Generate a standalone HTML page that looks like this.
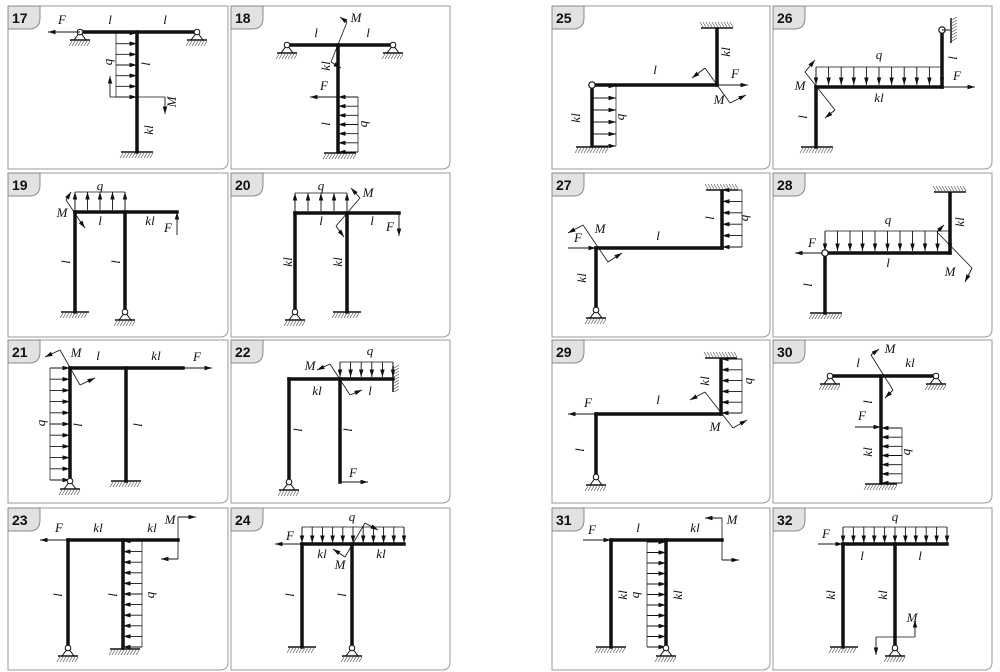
<!DOCTYPE html>
<html><head><meta charset="utf-8">
<style>
html,body{margin:0;padding:0;background:#fff;width:1000px;height:672px;overflow:hidden}
svg text{font-family:"Liberation Serif",serif;font-style:italic;font-size:13px;fill:#111}
svg text.n{font-family:"Liberation Sans",sans-serif;font-style:normal;font-weight:bold;font-size:14px}
</style></head><body>
<svg id="s" width="1000" height="672" viewBox="0 0 1000 672" xmlns="http://www.w3.org/2000/svg">
<defs>
<marker id="ah" viewBox="0 0 10 6" refX="10" refY="3" markerWidth="8" markerHeight="4.5" markerUnits="userSpaceOnUse" orient="auto"><path d="M0,0L10,3L0,6z" fill="#111"/></marker>
</defs>
</svg>
<script>
var S=document.getElementById('s'),NS='http://www.w3.org/2000/svg';
function el(t,a,txt){var e=document.createElementNS(NS,t);for(var k in a)e.setAttribute(k,a[k]);if(txt!=null)e.textContent=txt;S.appendChild(e);return e;}
function L(x1,y1,x2,y2,w,c){el('line',{x1:x1,y1:y1,x2:x2,y2:y2,stroke:c||'#111','stroke-width':w||0.8});}
function B(x1,y1,x2,y2){el('line',{x1:x1,y1:y1,x2:x2,y2:y2,stroke:'#111','stroke-width':3.5,'stroke-linecap':'square'});}
function A(x1,y1,x2,y2){el('line',{x1:x1,y1:y1,x2:x2,y2:y2,stroke:'#111','stroke-width':0.9,'marker-end':'url(#ah)'});}
function T(x,y,s,r){var a={x:x,y:y,'text-anchor':'middle'};if(r)a.transform='rotate(-90 '+x+' '+y+')';el('text',a,s);}
function hatchH(x1,x2,y,d){L(x1,y,x2,y,1.5);for(var x=x1+2;x<=x2;x+=3)L(x,y+d*1,x-3,y+d*6,0.6,'#444');}
function hatchV(x,y1,y2,d){L(x,y1,x,y2,1.5);for(var y=y1+2;y<=y2;y+=3)L(x+d*1,y,x+d*6,y-3,0.6,'#444');}
function fixH(x,y,w,d){hatchH(x-w/2,x+w/2,y,d||1);}
function pin(x,y){el('path',{d:'M'+x+','+y+'L'+(x-6)+','+(y+8)+'L'+(x+6)+','+(y+8)+'z',fill:'#fff',stroke:'#111','stroke-width':1});hatchH(x-10,x+10,y+8,1);el('circle',{cx:x,cy:y,r:2.8,fill:'#fff',stroke:'#111','stroke-width':1});}
function hinge(x,y){el('circle',{cx:x,cy:y,r:3.2,fill:'#fff',stroke:'#111','stroke-width':1.2});}
function Q(ax,ay,bx,by,dx,dy,n,inward){L(ax+dx,ay+dy,bx+dx,by+dy,0.7);L(ax,ay,ax+dx,ay+dy,0.7);L(bx,by,bx+dx,by+dy,0.7);
 for(var i=0;i<n;i++){var t=n==1?0:i/(n-1);var px=ax+(bx-ax)*t,py=ay+(by-ay)*t;
  if(inward)A(px+dx,py+dy,px,py);else A(px,py,px+dx,py+dy);}}
function M(x1,y1,x2,y2,a1x,a1y,a2x,a2y){L(x1,y1,x2,y2,0.8);A(x1,y1,a1x,a1y);A(x2,y2,a2x,a2y);}
function panel(x1,y1,x2,y2,num){el('path',{d:'M'+x1+','+y1+'H'+x2+'V'+(y2-8)+'Q'+x2+','+y2+' '+(x2-8)+','+y2+'H'+x1+'Z',fill:'#fff',stroke:'#999','stroke-width':1});
 el('path',{d:'M'+x1+','+y1+'H'+(x1+32)+'V'+(y1+12)+'Q'+(x1+32)+','+(y1+23)+' '+(x1+21)+','+(y1+23)+'H'+x1+'Z',fill:'#e2e2e2',stroke:'#888','stroke-width':1});
 el('text',{x:x1+4,y:y1+17,'class':'n'},num);}
var cols=[[8,228],[231,450],[552,770],[773,992]],rows=[[6,169],[173,337],[340,503],[508,670]];
var nums=[[17,18,25,26],[19,20,27,28],[21,22,29,30],[23,24,31,32]];
for(var r=0;r<4;r++)for(var c=0;c<4;c++)panel(cols[c][0],rows[r][0],cols[c][1],rows[r][1],nums[r][c]);

// 17
Q(137,33,137,97,-21,0,7,true);
B(80,32,197,32);B(137,32,137,152);fixH(137,152,32);pin(80,32);pin(197,32);
A(80,32,48,32);T(62,24,'F');T(110,24,'l');T(165,24,'l');
L(116,97,165,97);A(110,97,110,76);L(110,97,116,97);A(165,97,165,114);
T(112,62,'q',1);T(150,64,'l',1);T(176,102,'M',1);T(153,130,'kl',1);
// 18
Q(338,97,338,152,20,0,7,true);
B(287,45,393,45);B(338,45,338,152);fixH(340,153,32);pin(287,45);pin(393,45);
A(338,97,310,97);T(324,90,'F');M(347,22,331,62,340,17,341,68);T(356,22,'M');
T(316,37,'l');T(368,37,'l');T(330,66,'kl',1);T(330,124,'l',1);T(367,124,'q',1);
// 19
Q(75,210,125,210,0,-18,5,false);
B(75,212,177,212);B(75,212,75,312);B(125,212,125,310);fixH(75,312,28);pin(125,312);
A(177,235,177,212);T(168,232,'F');M(66,200,80,221,71,192,85,228);T(62,217,'M');
T(100,190,'q');T(100,225,'l');T(150,225,'kl');T(70,262,'l',1);T(120,262,'l',1);
// 20
Q(295,211,347,211,0,-18,5,false);
B(295,213,399,213);B(295,213,295,310);B(347,213,347,312);pin(295,312);fixH(347,312,28);
A(399,213,399,236);T(390,231,'F');M(360,198,336,226,351,188,344,237);T(368,197,'M');
T(321,190,'q');T(321,225,'l');T(372,225,'l');T(292,262,'kl',1);T(342,262,'kl',1);
// 21
Q(70,368,70,480,-20,0,11,true);
B(70,368,183,368);B(70,368,70,480);B(126,368,126,481);pin(70,481);fixH(126,481,30);
A(183,368,212,368);T(197,361,'F');M(60,350,80,385,45,357,95,378);T(76,357,'M');
T(98,360,'l');T(156,360,'kl');T(45,423,'q',1);T(82,425,'l',1);T(142,425,'l',1);
// 22
Q(340,377,393,377,0,-15,6,true);
B(289,379,393,379);B(289,379,289,481);B(340,379,340,482);hatchV(393,366,392,1);pin(289,482);
A(340,482,368,482);T(353,477,'F');M(330,364,350,395,317,370,362,390);T(310,370,'M');
T(370,355,'q');T(317,395,'kl');T(370,395,'l');T(302,430,'l',1);T(352,430,'l',1);
// 23
Q(123,541,123,647,19,0,11,true);
B(68,540,178,540);B(68,540,68,648);B(123,540,123,648);pin(68,648);fixH(125,649,30);
A(68,540,40,540);T(59,532,'F');L(178,540,178,517);A(178,517,196,517);L(178,540,178,559);A(178,559,161,559);
T(170,524,'M');T(98,532,'kl');T(152,532,'kl');T(62,595,'l',1);T(117,595,'l',1);T(154,595,'q',1);
// 24
Q(302,543,404,543,0,-16,11,true);
B(302,544,404,544);B(302,544,302,647);B(352,544,352,647);fixH(302,647,28);pin(352,648);
A(302,544,275,544);T(290,540,'F');M(365,523,345,557,378,530,333,549);T(352,521,'q');T(340,569,'M');
T(322,558,'kl');T(381,558,'kl');T(294,595,'l',1);T(346,595,'l',1);

// 25
Q(592,86,592,146,24,0,6,false);
B(717,29,717,85);B(592,85,717,85);B(592,85,592,146);fixH(717,28,32,-1);fixH(592,147,32);hinge(592,85);
A(717,85,748,85);T(735,78,'F');M(705,68,730,103,692,78,746,95);T(719,104,'M');
T(730,52,'kl',1);T(655,74,'l');T(580,118,'kl',1);T(624,117,'q',1);
// 26
Q(816,85,942,85,0,-18,11,true);
B(942,31,942,87);B(816,87,942,87);B(816,87,816,147);hatchV(951,18,43,1);hinge(942,30);L(942,30,950,30,1);fixH(817,147,32);
A(942,87,975,87);T(957,80,'F');M(805,72,835,110,815,60,825,118);T(800,90,'M');
T(879,59,'q');T(879,102,'kl');T(807,117,'l',1);T(957,58,'l',1);
// 27
Q(722,190,722,247,20,0,6,true);
B(722,191,722,248);B(596,248,722,248);B(596,248,596,308);fixH(722,190,32,-1);pin(596,310);
A(568,248,596,248);T(578,242,'F');M(583,225,608,262,568,233,622,253);T(600,233,'M');
T(658,240,'l');T(714,218,'l',1);T(748,218,'q',1);T(586,278,'kl',1);
// 28
Q(825,251,950,251,0,-20,11,true);
B(950,194,950,253);B(825,253,950,253);B(825,253,825,313);fixH(950,192,32,-1);fixH(826,313,32);hinge(825,253);
A(822,253,795,253);T(812,247,'F');M(937,232,972,268,944,225,965,282);T(950,276,'M');
T(888,224,'q');T(888,267,'l');T(964,222,'kl',1);T(812,285,'l',1);
// 29
Q(721,359,721,413,21,0,6,true);
B(721,360,721,414);B(596,414,721,414);B(596,414,596,476);fixH(721,358,32,-1);pin(596,477);
A(596,414,568,414);T(588,407,'F');M(705,392,733,428,690,400,747,420);T(715,431,'M');
T(658,404,'l');T(709,381,'kl',1);T(752,381,'q',1);T(584,450,'l',1);
// 30
Q(881,428,881,483,21,0,7,true);
B(830,376,936,376);B(881,376,881,483);pin(830,376);pin(936,376);fixH(881,484,32);
A(855,427,881,427);T(862,420,'F');M(871,355,893,390,879,349,885,398);T(890,353,'M');
T(858,367,'l');T(910,367,'kl');T(872,402,'l',1);T(872,452,'kl',1);T(910,452,'q',1);
// 31
Q(666,542,666,647,-19,0,11,true);
B(611,540,722,540);B(611,540,611,647);B(666,540,666,646);fixH(611,647,30);pin(666,648);
A(583,540,611,540);T(592,534,'F');L(722,540,722,518);A(722,518,705,518);L(722,540,722,560);A(722,560,739,560);
T(732,524,'M');T(638,532,'l');T(695,532,'kl');T(627,595,'kl',1);T(639,595,'q',1);T(682,595,'kl',1);
// 32
Q(843,543,947,543,0,-16,11,true);
B(843,544,947,544);B(843,544,843,647);B(895,544,895,647);fixH(844,647,28);pin(895,648);
A(818,544,843,544);T(826,538,'F');L(876,637,915,637);A(876,637,876,655);A(915,637,915,620);T(912,622,'M');
T(895,521,'q');T(862,560,'l');T(920,560,'l');T(835,595,'kl',1);T(887,595,'kl',1);
</script>
</body></html>
